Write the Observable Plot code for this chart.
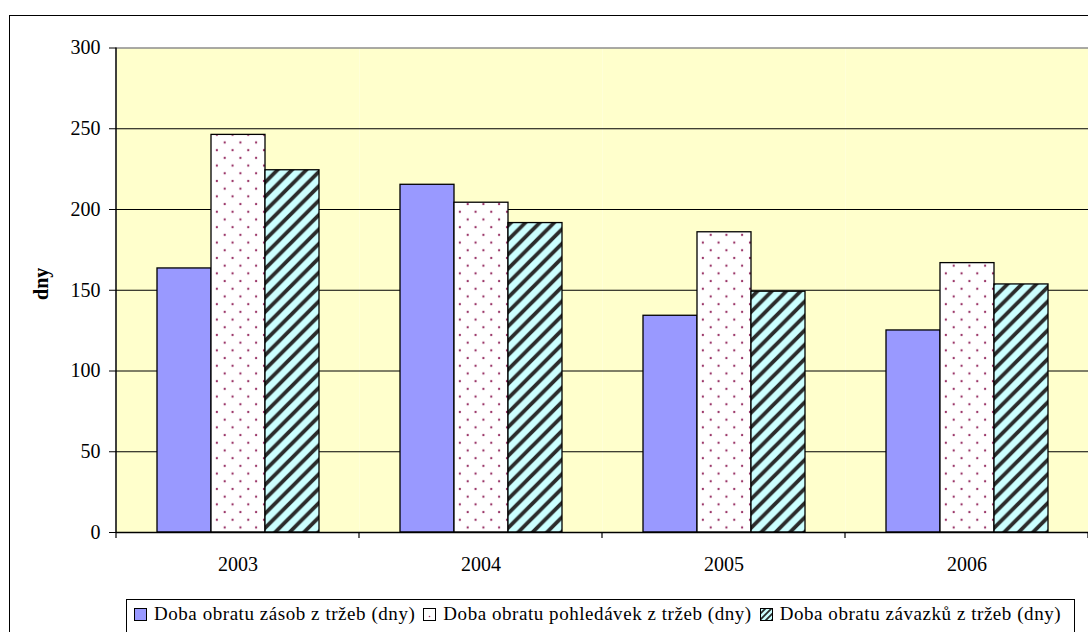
<!DOCTYPE html>
<html>
<head>
<meta charset="utf-8">
<script src="https://cdn.jsdelivr.net/npm/d3@7"></script>
<script src="https://cdn.jsdelivr.net/npm/@observablehq/plot@0.6"></script>
<style>
  body { margin: 0; background: #fff; }
  #wrap { position: relative; width: 1088px; height: 632px; overflow: hidden;
          font-family: "Liberation Serif", "Times New Roman", serif; color: #000; }
  #border { position: absolute; left: 9px; top: 15px; width: 1200px; height: 700px;
            border: 1.5px solid #000; box-sizing: border-box; }
  #chart { position: absolute; left: 0; top: 0; width: 1100px; }
  #legend { position: absolute; left: 126px; top: 599px; width: 949px; height: 40px;
            border: 1px solid #000; box-sizing: border-box; background: #fff;
            display: flex; align-items: flex-start; padding: 4px 0 0 7px; gap: 8px;
            font-size: 19px; letter-spacing: 0.55px; line-height: 20px; white-space: nowrap; }
  #legend .item { display: flex; align-items: center; gap: 7px; }
  #legend svg { display: block; }
</style>
</head>
<body>
<svg width="0" height="0" style="position:absolute">
  <defs>
    <pattern id="dots" patternUnits="userSpaceOnUse" width="15.7" height="15.4">
      <rect width="15.7" height="15.4" fill="#fff"/>
      <circle cx="3.9" cy="3.9" r="1.15" fill="#993366"/>
      <circle cx="11.75" cy="11.6" r="1.15" fill="#993366"/>
    </pattern>
    <pattern id="stripes" patternUnits="userSpaceOnUse" width="14.4" height="14.4">
      <rect width="14.4" height="14.4" fill="#CCFFFF"/>
      <path d="M-3.6,3.6 L3.6,-3.6 M0,14.4 L14.4,0 M10.8,18 L18,10.8"
            stroke="#2b2b2b" stroke-width="3.8"/>
    </pattern>
    <pattern id="stripesSmall" patternUnits="userSpaceOnUse" width="6" height="6">
      <rect width="6" height="6" fill="#CCFFFF"/>
      <path d="M-1.5,1.5 L1.5,-1.5 M0,6 L6,0 M4.5,7.5 L7.5,4.5" stroke="#2b2b2b" stroke-width="1.8"/>
    </pattern>
  </defs>
</svg>
<div id="wrap">
  <div id="border"></div>
  <div id="chart"></div>
  <div id="legend"></div>
</div>
<script>
// Turnover periods (days) by year
const years = ["2003", "2004", "2005", "2006"];
const seriesNames = [
  "Doba obratu zásob z tržeb (dny)",
  "Doba obratu pohledávek z tržeb (dny)",
  "Doba obratu závazků z tržeb (dny)"
];
const zasoby = [163.5, 215.3, 134.2, 125.1];
const pohledavky = [246.2, 204.2, 185.9, 166.8];
const zavazky = [224.3, 191.6, 149.1, 153.6];
const yTicks = [0, 50, 100, 150, 200, 250, 300];
const yTitle = "dny";

const seriesValues = [zasoby, pohledavky, zavazky];
const seriesFills = ["#9999FF", "url(#dots)", "url(#stripes)"];
const legendFills = ["#9999FF", "#fff", "url(#stripesSmall)"];

const table = years.flatMap((year, i) =>
  seriesNames.map((series, k) => ({ year, series, value: seriesValues[k][i] }))
);

const bars = seriesNames.map((name, k) =>
  Plot.barY(table.filter(d => d.series === name), {
    fx: "year", x: "series", y: "value",
    fill: seriesFills[k], stroke: "#000", strokeWidth: 1.3
  })
);

const plot = Plot.plot({
  width: 1100,
  height: 600,
  marginLeft: 115,
  marginRight: 11,
  marginTop: 47.5,
  marginBottom: 68,
  facet: { marginTop: 0, marginRight: 0, marginBottom: 0, marginLeft: 0 },
  style: { fontFamily: "'Liberation Serif', 'Times New Roman', serif", fontSize: "20px",
           color: "#000", background: "transparent", overflow: "visible", maxWidth: "none" },
  fx: { domain: years, paddingInner: 0, paddingOuter: 0, axis: null, label: null },
  x: { domain: seriesNames, paddingInner: 0, paddingOuter: 0.75, axis: null },
  y: { domain: [0, 300], axis: null },
  marks: [
    Plot.frame({ fill: "#FFFFCC", stroke: "none" }),
    Plot.ruleY(yTicks.filter(t => t > 0 && t < 300), { stroke: "#000", strokeWidth: 1 }),
    Plot.ruleY([300], { stroke: "#8c8c8c", strokeWidth: 1.5 }),
    ...bars,
    Plot.ruleY([0], { stroke: "#000", strokeWidth: 1.3 }),
    Plot.axisY({ ticks: yTicks, tickSize: 7, tickPadding: 9, fontSize: 20, label: null }),
    Plot.axisFx({ anchor: "bottom", tickSize: 0, tickPadding: 24, fontSize: 20, label: null })
  ]
});

// Value axis line, category boundary ticks and axis title
const fx = plot.scale("fx");
const y = plot.scale("y");
const svg = d3.select(plot);
const left = fx.apply(years[0]);
const y0 = y.apply(0);
svg.append("line")
  .attr("x1", left).attr("x2", left)
  .attr("y1", y.apply(300)).attr("y2", y0 + 1)
  .attr("stroke", "#000").attr("stroke-width", 1.5);
const bounds = years.map(yr => fx.apply(yr)).concat([fx.apply(years[years.length - 1]) + fx.bandwidth]);
svg.append("g").selectAll("line").data(bounds).join("line")
  .attr("x1", d => d).attr("x2", d => d)
  .attr("y1", y0).attr("y2", y0 + 6)
  .attr("stroke", "#000").attr("stroke-width", 1.2);
svg.append("text")
  .attr("transform", `translate(48, ${(y.apply(300) + y0) / 2 - 6}) rotate(-90)`)
  .attr("text-anchor", "middle")
  .attr("font-weight", "bold")
  .attr("font-size", 20)
  .attr("fill", "#000")
  .text(yTitle);

document.getElementById("chart").appendChild(plot);

// Legend
const legend = d3.select("#legend");
seriesNames.forEach((name, k) => {
  const item = legend.append("div").attr("class", "item");
  const sw = item.append("svg").attr("width", 13).attr("height", 13);
  sw.append("rect").attr("x", 0.5).attr("y", 0.5).attr("width", 12).attr("height", 12)
    .attr("fill", legendFills[k]).attr("stroke", "#000").attr("stroke-width", 1);
  if (k === 1) sw.append("circle").attr("cx", 6.5).attr("cy", 8.5).attr("r", 0.8).attr("fill", "#993366");
  item.append("span").text(name);
});
</script>
</body>
</html>
